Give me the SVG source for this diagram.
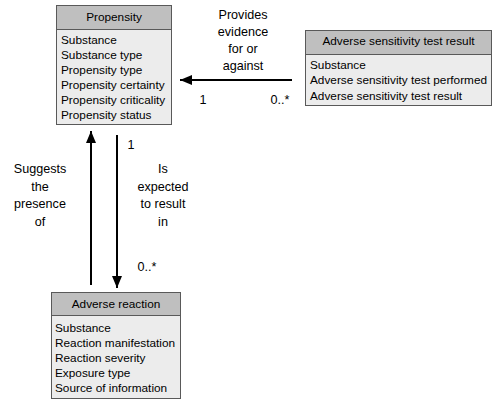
<svg xmlns="http://www.w3.org/2000/svg" width="493" height="402" viewBox="0 0 493 402">
<defs>
<marker id="arr" viewBox="0 0 12 10" refX="12" refY="5" markerWidth="12" markerHeight="10" markerUnits="userSpaceOnUse" orient="auto">
<path d="M0,0 L12,5 L0,10 Z" fill="#000"/>
</marker>
</defs>
<style>
text{font-family:"Liberation Sans",Arial,sans-serif;font-size:11.8px;fill:#000}
.labels text{font-size:12.6px}
.hdr{fill:#bfbfbf;stroke:#595959;stroke-width:1}
.body{fill:#ececec;stroke:#595959;stroke-width:1}
.c{text-anchor:middle}
.conn{stroke:#000;stroke-width:2;fill:none}
</style>
<rect width="493" height="402" fill="#fff"/>
<g id="propensity">
<rect class="body" x="56.5" y="5.5" width="115" height="119"/>
<rect class="hdr" x="56.5" y="5.5" width="115" height="24"/>
<text class="c" x="114" y="21">Propensity</text>
<text x="61" y="44">Substance</text>
<text x="61" y="59">Substance type</text>
<text x="61" y="74">Propensity type</text>
<text x="61" y="89">Propensity certainty</text>
<text x="61" y="104">Propensity criticality</text>
<text x="61" y="119">Propensity status</text>
</g>
<g id="sensitivity">
<rect class="body" x="305.5" y="30.5" width="186" height="75"/>
<rect class="hdr" x="305.5" y="30.5" width="186" height="24"/>
<text class="c" x="398.5" y="45">Adverse sensitivity test result</text>
<text x="310" y="69">Substance</text>
<text x="310" y="84">Adverse sensitivity test performed</text>
<text x="310" y="100">Adverse sensitivity test result</text>
</g>
<g id="reaction">
<rect class="body" x="51.5" y="292.5" width="129" height="106"/>
<rect class="hdr" x="51.5" y="292.5" width="129" height="23"/>
<text class="c" x="116" y="308">Adverse reaction</text>
<text x="55" y="332">Substance</text>
<text x="55" y="347">Reaction manifestation</text>
<text x="55" y="362">Reaction severity</text>
<text x="55" y="377">Exposure type</text>
<text x="55" y="392">Source of information</text>
</g>
<g id="connectors">
<line class="conn" x1="292" y1="80" x2="180" y2="80" marker-end="url(#arr)"/>
<line class="conn" x1="91" y1="285" x2="91" y2="131" marker-end="url(#arr)"/>
<line class="conn" x1="117" y1="135" x2="117" y2="288" marker-end="url(#arr)"/>
<g class="labels">
<text class="c" x="243" y="19">Provides</text>
<text class="c" x="243" y="36">evidence</text>
<text class="c" x="243" y="53">for or</text>
<text class="c" x="243" y="70">against</text>
<text class="c" x="203" y="104">1</text>
<text class="c" x="280" y="104">0..*</text>
<text class="c" x="40" y="173">Suggests</text>
<text class="c" x="40" y="191">the</text>
<text class="c" x="40" y="208">presence</text>
<text class="c" x="40" y="226">of</text>
<text class="c" x="163" y="173">Is</text>
<text class="c" x="163" y="191">expected</text>
<text class="c" x="163" y="208">to result</text>
<text class="c" x="163" y="226">in</text>
<text class="c" x="131" y="149">1</text>
<text class="c" x="147" y="271">0..*</text>
</g>
</g>
</svg>
